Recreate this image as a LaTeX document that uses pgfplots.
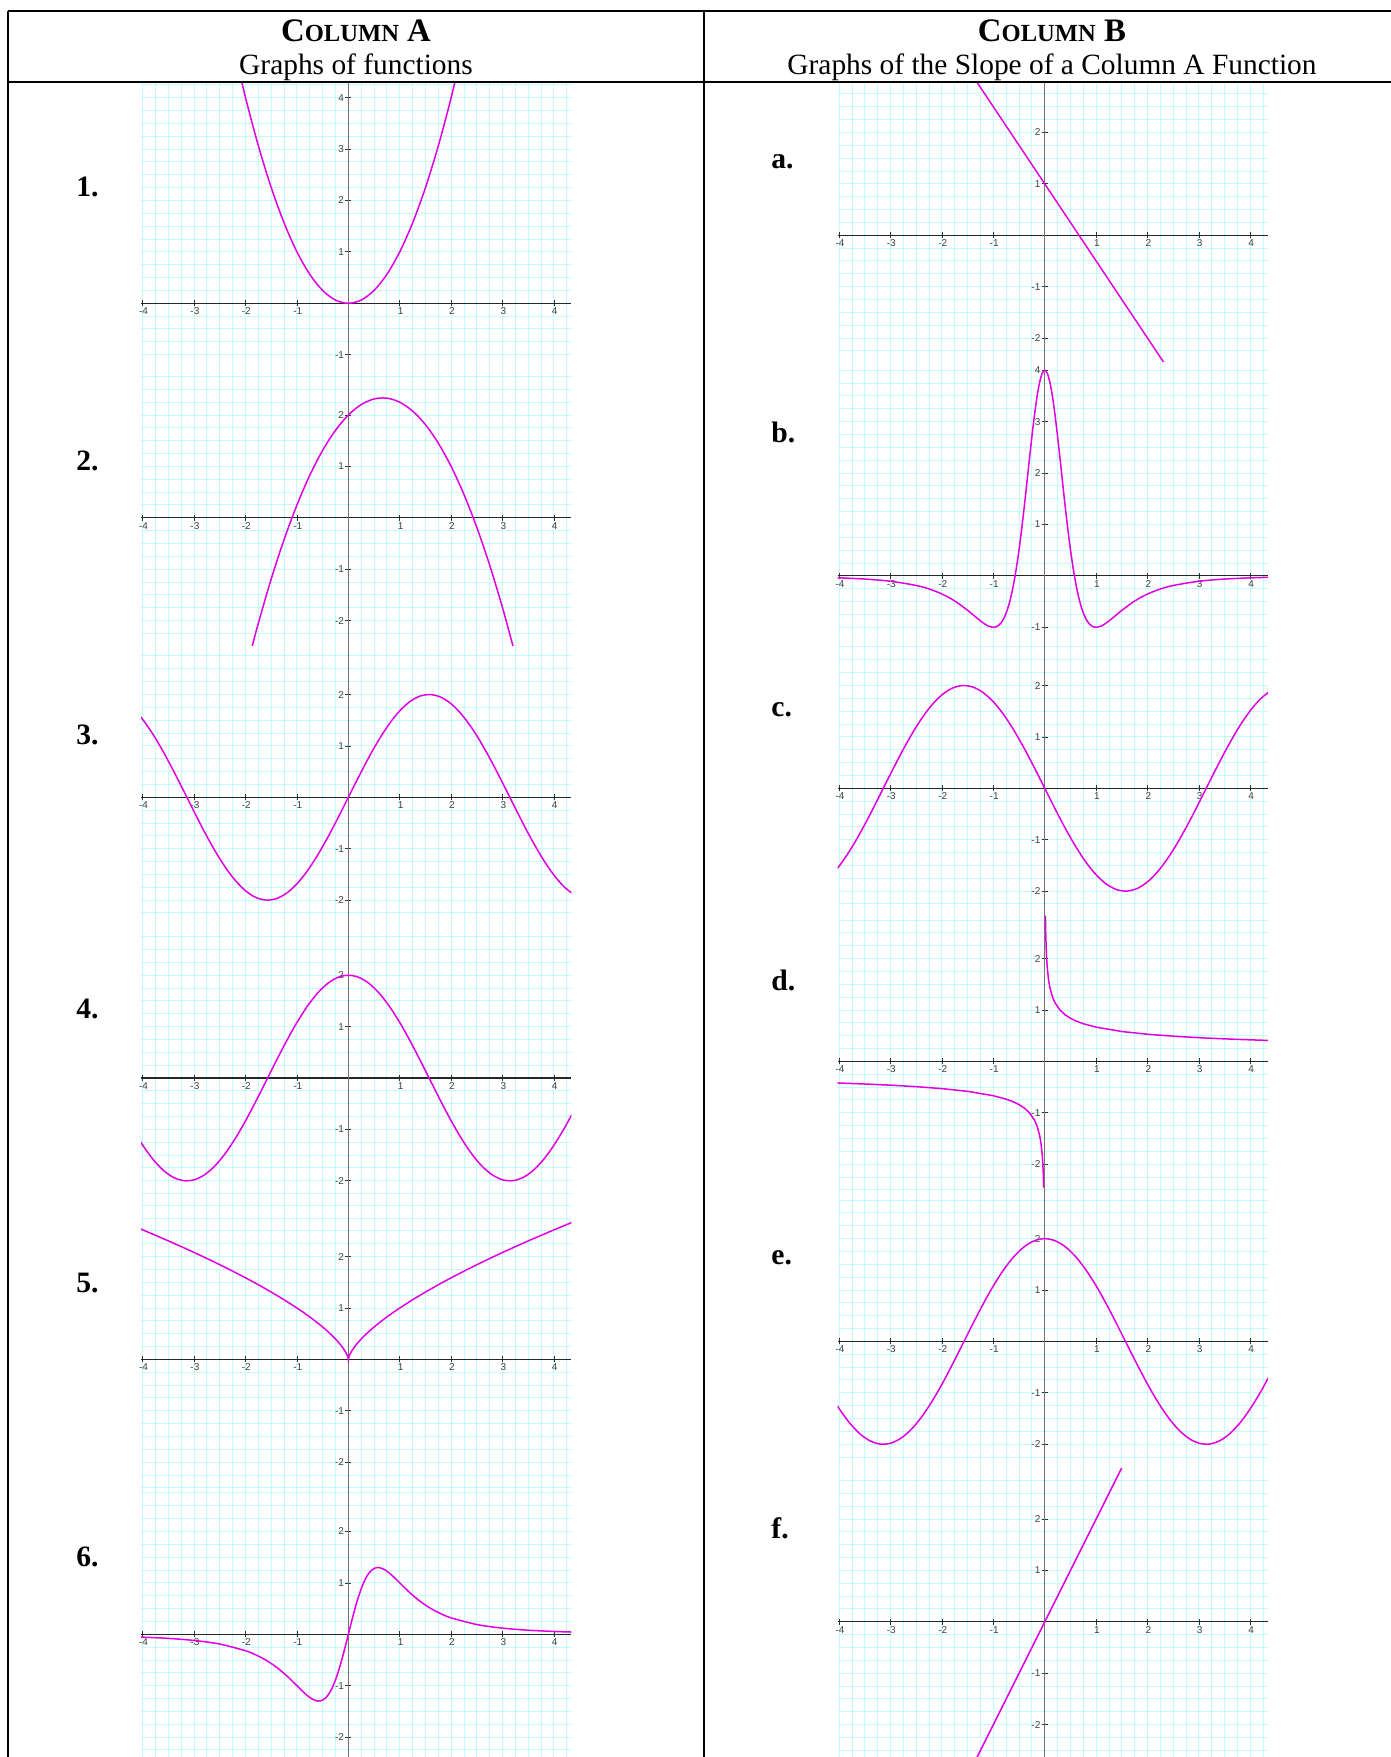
\documentclass[border=0pt]{standalone}
\usepackage{fontspec}
\setmainfont{Liberation Serif}
\newfontfamily\tickfont{Liberation Sans}
\usepackage{pgfplots}
\pgfplotsset{compat=1.18}
\definecolor{gridc}{RGB}{196,250,250}
\definecolor{curvec}{RGB}{225,0,225}
\pgfplotsset{
  gr/.style={anchor=north west, x=25.7pt, y=25.7pt, xmin=-4.03, xmax=4.34,
    axis lines=middle, axis line style={-},
    x axis line style={black!85, line width=0.6pt},
    y axis line style={black!55, line width=0.6pt},
    xtick={-4,-3,-2,-1,1,2,3,4}, xticklabels={-4,-3,-2,-1,1,2,3,4},
    minor xtick={-4,-3.75,...,4.3},
    minor ytick={-2.75,-2.5,...,4.3},
    grid=both, major grid style={gridc, line width=0.5pt}, minor grid style={gridc, line width=0.5pt},
    tick align=center, major tick length=3pt, minor tick length=0pt,
    major tick style={black!80, line width=0.4pt},
    tick label style={font=\tickfont\fontsize{5}{5}\selectfont, text=black!75, inner sep=0.5pt},
    xticklabel style={anchor=north, xshift=0.4pt},
    yticklabel style={anchor=east},
  },
  cv/.style={curvec, line width=0.75pt, mark=none},
}
\begin{document}
\begin{tikzpicture}
\useasboundingbox (0,0) rectangle (695.5pt,-878.5pt);

% ---------------- Column A ----------------
% 1
\begin{axis}[gr, at={(70.6pt,-41pt)}, ymin=-1.200, ymax=4.305,
  ytick={-1,1,2,3,4}, yticklabels={-1,1,2,3,4}]
\addplot[cv, smooth] coordinates {(-2.25,5.0625)(-2,4)(-1.75,3.0625)(-1.5,2.25)(-1.25,1.5625)(-1,1)(-0.75,0.5625)(-0.5,0.25)(-0.25,0.0625)(0,0)(0.25,0.0625)(0.5,0.25)(0.75,0.5625)(1,1)(1.25,1.5625)(1.5,2.25)(1.75,3.0625)(2,4)(2.25,5.0625)};
\end{axis}
% 2
\begin{axis}[gr, at={(70.6pt,-182.5pt)}, ymin=-2.475, ymax=2.973,
  ytick={-2,-1,1,2}, yticklabels={-2,-1,1,2}]
\addplot[cv, smooth] coordinates {(-1.9,-2.6075)(-1.75,-2.0469)(-1.5,-1.1875)(-1.25,-0.4219)(-1,0.25)(-0.75,0.8281)(-0.5,1.3125)(-0.25,1.7031)(0,2)(0.25,2.2031)(0.5,2.3125)(0.75,2.3281)(1,2.25)(1.25,2.0781)(1.5,1.8125)(1.75,1.4531)(2,1)(2.25,0.4531)(2.5,-0.1875)(2.75,-0.9219)(3,-1.75)(3.25,-2.6719)};
\end{axis}
% 3
\begin{axis}[gr, at={(70.6pt,-322.5pt)}, ymin=-2.484, ymax=2.963,
  ytick={-2,-1,1,2}, yticklabels={-2,-1,1,2}]
\addplot[cv, smooth] coordinates {(-4.2,1.743)(-4.0,1.514)(-3.8,1.224)(-3.6,0.885)(-3.4,0.511)(-3.2,0.117)(-3.0,-0.282)(-2.8,-0.670)(-2.6,-1.031)(-2.4,-1.351)(-2.2,-1.617)(-2.0,-1.819)(-1.8,-1.948)(-1.6,-1.999)(-1.4,-1.971)(-1.2,-1.864)(-1.0,-1.683)(-0.8,-1.435)(-0.6,-1.129)(-0.4,-0.779)(-0.2,-0.397)(0,0)(0.2,0.397)(0.4,0.779)(0.6,1.129)(0.8,1.435)(1.0,1.683)(1.2,1.864)(1.4,1.971)(1.6,1.999)(1.8,1.948)(2.0,1.819)(2.2,1.617)(2.4,1.351)(2.6,1.031)(2.8,0.670)(3.0,0.282)(3.2,-0.117)(3.4,-0.511)(3.6,-0.885)(3.8,-1.224)(4.0,-1.514)(4.2,-1.743)(4.4,-1.903)};
\end{axis}
% 4
\begin{axis}[gr, at={(70.6pt,-462.5pt)}, ymin=-2.451, ymax=2.977,
  ytick={-2,-1,1,2}, yticklabels={-2,-1,1,2}]
\addplot[cv, smooth] coordinates {(-4.4,-0.615)(-4.2,-0.981)(-4.0,-1.307)(-3.8,-1.582)(-3.6,-1.794)(-3.4,-1.934)(-3.2,-1.997)(-3.0,-1.980)(-2.8,-1.884)(-2.6,-1.714)(-2.4,-1.475)(-2.2,-1.177)(-2.0,-0.832)(-1.8,-0.454)(-1.6,-0.058)(-1.4,0.340)(-1.2,0.725)(-1.0,1.081)(-0.8,1.393)(-0.6,1.651)(-0.4,1.842)(-0.2,1.960)(0,2)(0.2,1.960)(0.4,1.842)(0.6,1.651)(0.8,1.393)(1.0,1.081)(1.2,0.725)(1.4,0.340)(1.6,-0.058)(1.8,-0.454)(2.0,-0.832)(2.2,-1.177)(2.4,-1.475)(2.6,-1.714)(2.8,-1.884)(3.0,-1.980)(3.2,-1.997)(3.4,-1.934)(3.6,-1.794)(3.8,-1.582)(4.0,-1.307)(4.2,-0.981)(4.4,-0.615)};
\end{axis}
% 5
\begin{axis}[gr, at={(70.6pt,-602pt)}, ymin=-2.502, ymax=3.023,
  ytick={-2,-1,1,2}, yticklabels={-2,-1,1,2}]
\addplot[cv] coordinates {(-4.4,2.6856)(-4.25,2.6238)(-4,2.5198)(-3.75,2.4137)(-3.5,2.3052)(-3.25,2.1941)(-3,2.0801)(-2.75,1.9629)(-2.5,1.8420)(-2.25,1.7171)(-2,1.5874)(-1.75,1.4522)(-1.5,1.3104)(-1.25,1.1604)(-1,1)(-0.9,0.9322)(-0.8,0.8618)(-0.7,0.7884)(-0.6,0.7114)(-0.5,0.6300)(-0.4,0.5429)(-0.3,0.4481)(-0.25,0.3969)(-0.2,0.3420)(-0.15,0.2823)(-0.1,0.2154)(-0.07,0.1698)(-0.05,0.1357)(-0.03,0.0966)(-0.02,0.0737)(-0.01,0.0464)(-0.004,0.0252)(0,0)(0.004,0.0252)(0.01,0.0464)(0.02,0.0737)(0.03,0.0966)(0.05,0.1357)(0.07,0.1698)(0.1,0.2154)(0.15,0.2823)(0.2,0.3420)(0.25,0.3969)(0.3,0.4481)(0.4,0.5429)(0.5,0.6300)(0.6,0.7114)(0.7,0.7884)(0.8,0.8618)(0.9,0.9322)(1,1)(1.25,1.1604)(1.5,1.3104)(1.75,1.4522)(2,1.5874)(2.25,1.7171)(2.5,1.8420)(2.75,1.9629)(3,2.0801)(3.25,2.1941)(3.5,2.3052)(3.75,2.4137)(4,2.5198)(4.25,2.6238)(4.4,2.6856)};
\end{axis}
% 6
\begin{axis}[gr, at={(70.6pt,-744pt)}, ymin=-2.387, ymax=2.846,
  ytick={-2,-1,1,2}, yticklabels={-2,-1,1,2}]
\addplot[cv, smooth] coordinates {(-4.4,-0.0425)(-4.0,-0.0554)(-3.5,-0.0797)(-3.0,-0.120)(-2.5,-0.190)(-2.0,-0.320)(-1.8,-0.4005)(-1.6,-0.505)(-1.4,-0.639)(-1.2,-0.806)(-1.0,-1.000)(-0.9,-1.099)(-0.8,-1.190)(-0.7,-1.261)(-0.6,-1.298)(-0.55,-1.297)(-0.5,-1.280)(-0.45,-1.245)(-0.4,-1.189)(-0.35,-1.111)(-0.3,-1.010)(-0.25,-0.886)(-0.2,-0.740)(-0.15,-0.574)(-0.1,-0.392)(-0.05,-0.199)(0,0)(0.05,0.199)(0.1,0.392)(0.15,0.574)(0.2,0.740)(0.25,0.886)(0.3,1.010)(0.35,1.111)(0.4,1.189)(0.45,1.245)(0.5,1.280)(0.55,1.297)(0.6,1.298)(0.7,1.261)(0.8,1.190)(0.9,1.099)(1.0,1.000)(1.2,0.806)(1.4,0.639)(1.6,0.505)(1.8,0.4005)(2.0,0.320)(2.5,0.190)(3.0,0.120)(3.5,0.0797)(4.0,0.0554)(4.4,0.0425)};
\end{axis}

% ---------------- Column B ----------------
% a
\begin{axis}[gr, at={(418.8pt,-41pt)}, ymin=-2.465, ymax=2.982,
  ytick={-2,-1,1,2}, yticklabels={-2,-1,1,2}]
\addplot[cv] coordinates {(-1.4,3.1)(2.4,-2.6)};
\end{axis}
% b
\begin{axis}[gr, at={(418.8pt,-181pt)}, ymin=-1.228, ymax=4.161,
  ytick={-1,1,2,3,4}, yticklabels={-1,1,2,3,4}]
\addplot[cv, smooth] coordinates {(-4.4,-0.0271)(-4.0,-0.0383)(-3.5,-0.0615)(-3.0,-0.104)(-2.5,-0.1863)(-2.25,-0.2547)(-2.0,-0.352)(-1.75,-0.488)(-1.5,-0.670)(-1.4,-0.753)(-1.3,-0.836)(-1.2,-0.914)(-1.1,-0.975)(-1.0,-1.000)(-0.95,-0.992)(-0.9,-0.965)(-0.85,-0.914)(-0.8,-0.834)(-0.75,-0.721)(-0.7,-0.568)(-0.65,-0.372)(-0.6,-0.127)(-0.55,0.167)(-0.5,0.512)(-0.45,0.903)(-0.4,1.333)(-0.35,1.789)(-0.3,2.255)(-0.25,2.710)(-0.2,3.129)(-0.15,3.489)(-0.1,3.766)(-0.05,3.940)(0,4)(0.05,3.940)(0.1,3.766)(0.15,3.489)(0.2,3.129)(0.25,2.710)(0.3,2.255)(0.35,1.789)(0.4,1.333)(0.45,0.903)(0.5,0.512)(0.55,0.167)(0.6,-0.127)(0.65,-0.372)(0.7,-0.568)(0.75,-0.721)(0.8,-0.834)(0.85,-0.914)(0.9,-0.965)(0.95,-0.992)(1.0,-1.000)(1.1,-0.975)(1.2,-0.914)(1.3,-0.836)(1.4,-0.753)(1.5,-0.670)(1.75,-0.488)(2.0,-0.352)(2.25,-0.2547)(2.5,-0.1863)(3.0,-0.104)(3.5,-0.0615)(4.0,-0.0383)(4.4,-0.0271)};
\end{axis}
% c
\begin{axis}[gr, at={(418.8pt,-319.5pt)}, ymin=-2.407, ymax=2.905,
  ytick={-2,-1,1,2}, yticklabels={-2,-1,1,2}]
\addplot[cv, smooth] coordinates {(-4.2,-1.743)(-4.0,-1.514)(-3.8,-1.224)(-3.6,-0.885)(-3.4,-0.511)(-3.2,-0.117)(-3.0,0.282)(-2.8,0.670)(-2.6,1.031)(-2.4,1.351)(-2.2,1.617)(-2.0,1.819)(-1.8,1.948)(-1.6,1.999)(-1.4,1.971)(-1.2,1.864)(-1.0,1.683)(-0.8,1.435)(-0.6,1.129)(-0.4,0.779)(-0.2,0.397)(0,0)(0.2,-0.397)(0.4,-0.779)(0.6,-1.129)(0.8,-1.435)(1.0,-1.683)(1.2,-1.864)(1.4,-1.971)(1.6,-1.999)(1.8,-1.948)(2.0,-1.819)(2.2,-1.617)(2.4,-1.351)(2.6,-1.031)(2.8,-0.670)(3.0,-0.282)(3.2,0.117)(3.4,0.511)(3.6,0.885)(3.8,1.224)(4.0,1.514)(4.2,1.743)(4.4,1.903)};
\end{axis}
% d
\begin{axis}[gr, at={(418.8pt,-456pt)}, ymin=-2.541, ymax=2.907,
  ytick={-2,-1,1,2}, yticklabels={-2,-1,1,2}]
\addplot[cv] coordinates {(0.013,2.835)(0.016,2.646)(0.02,2.456)(0.03,2.146)(0.04,1.949)(0.05,1.810)(0.075,1.581)(0.1,1.436)(0.15,1.255)(0.2,1.140)(0.3,0.996)(0.4,0.905)(0.5,0.840)(0.6,0.790)(0.75,0.734)(1,0.667)(1.5,0.582)(2,0.529)(2.5,0.491)(3,0.462)(3.5,0.439)(4,0.420)(4.4,0.407)};
\addplot[cv] coordinates {(-4.4,-0.407)(-4,-0.420)(-3.5,-0.439)(-3,-0.462)(-2.5,-0.491)(-2,-0.529)(-1.5,-0.582)(-1,-0.667)(-0.75,-0.734)(-0.6,-0.790)(-0.5,-0.840)(-0.4,-0.905)(-0.3,-0.996)(-0.2,-1.140)(-0.15,-1.255)(-0.1,-1.436)(-0.075,-1.581)(-0.05,-1.810)(-0.04,-1.949)(-0.03,-2.146)(-0.02,-2.456)};
\end{axis}
% e
\begin{axis}[gr, at={(418.8pt,-596pt)}, ymin=-2.463, ymax=2.907,
  ytick={-2,-1,1,2}, yticklabels={-2,-1,1,2}]
\addplot[cv, smooth] coordinates {(-4.4,-0.615)(-4.2,-0.981)(-4.0,-1.307)(-3.8,-1.582)(-3.6,-1.794)(-3.4,-1.934)(-3.2,-1.997)(-3.0,-1.980)(-2.8,-1.884)(-2.6,-1.714)(-2.4,-1.475)(-2.2,-1.177)(-2.0,-0.832)(-1.8,-0.454)(-1.6,-0.058)(-1.4,0.340)(-1.2,0.725)(-1.0,1.081)(-0.8,1.393)(-0.6,1.651)(-0.4,1.842)(-0.2,1.960)(0,2)(0.2,1.960)(0.4,1.842)(0.6,1.651)(0.8,1.393)(1.0,1.081)(1.2,0.725)(1.4,0.340)(1.6,-0.058)(1.8,-0.454)(2.0,-0.832)(2.2,-1.177)(2.4,-1.475)(2.6,-1.714)(2.8,-1.884)(3.0,-1.980)(3.2,-1.997)(3.4,-1.934)(3.6,-1.794)(3.8,-1.582)(4.0,-1.307)(4.2,-0.981)(4.4,-0.615)};
\end{axis}
% f
\begin{axis}[gr, at={(418.8pt,-734pt)}, ymin=-2.630, ymax=2.992,
  ytick={-2,-1,1,2}, yticklabels={-2,-1,1,2}]
\addplot[cv] coordinates {(-1.4,-2.8)(1.6,3.2)};
\end{axis}

% ---------------- Table frame and text ----------------
\draw[line width=1pt] (4pt,-5.5pt) -- (695.5pt,-5.5pt);
\draw[line width=1pt] (4pt,-41pt) -- (695.5pt,-41pt);
\draw[line width=1pt] (4pt,-5.5pt) -- (4pt,-878.5pt);
\draw[line width=1pt] (352pt,-5.5pt) -- (352pt,-878.5pt);

\node[anchor=base, font=\fontsize{16.4}{18}\selectfont\bfseries, inner sep=0pt] at (178pt,-20.85pt) {C{\fontsize{12.3}{14}\selectfont OLUMN} A};
\node[anchor=base, font=\fontsize{14.7}{17}\selectfont, inner sep=0pt] at (178pt,-37pt) {Graphs of functions};
\node[anchor=base, font=\fontsize{16.4}{18}\selectfont\bfseries, inner sep=0pt] at (526pt,-20.85pt) {C{\fontsize{12.3}{14}\selectfont OLUMN} B};
\node[anchor=base, font=\fontsize{14.7}{17}\selectfont, inner sep=0pt] at (526pt,-37pt) {Graphs of the Slope of a Column A Function};

\foreach \lab/\yy in {1./-98.35, 2./-235.1, 3./-372.4, 4./-509.1, 5./-646.4, 6./-783.15}
  \node[anchor=base west, font=\fontsize{14.8}{16}\selectfont\bfseries, inner sep=0pt] at (38pt,\yy pt) {\lab};
\foreach \lab/\yy in {a./-84, b./-221, c./-358, d./-495, e./-632, f./-769}
  \node[anchor=base west, font=\fontsize{14.8}{16}\selectfont\bfseries, inner sep=0pt] at (385.5pt,\yy pt) {\lab};
\end{tikzpicture}
\end{document}
